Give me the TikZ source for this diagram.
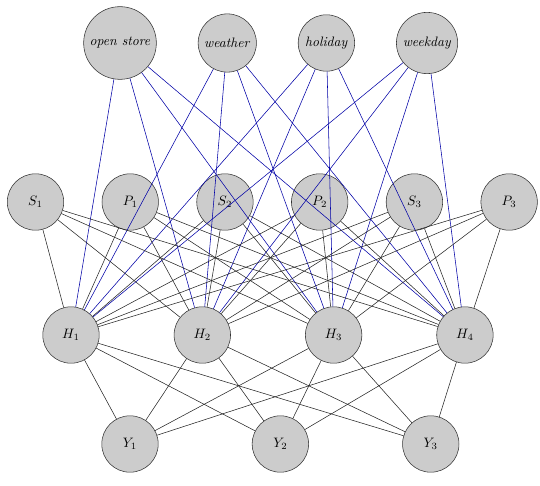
\documentclass[tikz,border=0pt]{standalone}
\usepackage{tikz}
\usetikzlibrary{positioning}

\begin{document}
\begin{tikzpicture}[x=0.0257cm,y=-0.0257cm,
  neuron/.style={circle,draw=black!80,fill=gray!40,minimum size=1.45cm,inner sep=3.33pt},
  inlink/.style={blue!65!black,thin},
  hlink/.style={black!85,thin}]
\useasboundingbox (0,0) rectangle (540,485);
% input features
\node[neuron] (os) at (120,43) {\textit{open store}};
\node[neuron,right=1.06cm of os] (we) {\textit{weather}};
\node[neuron,right=1.06cm of we] (ho) {\textit{holiday}};
\node[neuron,right=1.06cm of ho] (wd) {\textit{weekday}};
% sales and prices
\node[neuron] (s1) at (35.5,202) {$S_1$};
\node[neuron,right=0.97cm of s1] (p1) {$P_1$};
\node[neuron,right=0.97cm of p1] (s2) {$S_2$};
\node[neuron,right=0.97cm of s2] (p2) {$P_2$};
\node[neuron,right=0.97cm of p2] (s3) {$S_3$};
\node[neuron,right=0.97cm of s3] (p3) {$P_3$};
% hidden layer
\node[neuron] (h1) at (71,335) {$H_1$};
\node[neuron,right=1.91cm of h1] (h2) {$H_2$};
\node[neuron,right=1.91cm of h2] (h3) {$H_3$};
\node[neuron,right=1.91cm of h3] (h4) {$H_4$};
% outputs
\node[neuron] (y1) at (130,444) {$Y_1$};
\node[neuron,right=2.4cm of y1] (y2) {$Y_2$};
\node[neuron,right=2.4cm of y2] (y3) {$Y_3$};
% connections
\foreach \a in {os,we,ho,wd}
  \foreach \b in {1,...,4}
    \draw[inlink] (\a) -- (h\b);
\foreach \a in {s1,p1,s2,p2,s3,p3}
  \foreach \b in {1,...,4}
    \draw[hlink] (\a) -- (h\b);
\foreach \a in {1,...,4}
  \foreach \b in {1,...,3}
    \draw[hlink] (h\a) -- (y\b);
\end{tikzpicture}
\end{document}
